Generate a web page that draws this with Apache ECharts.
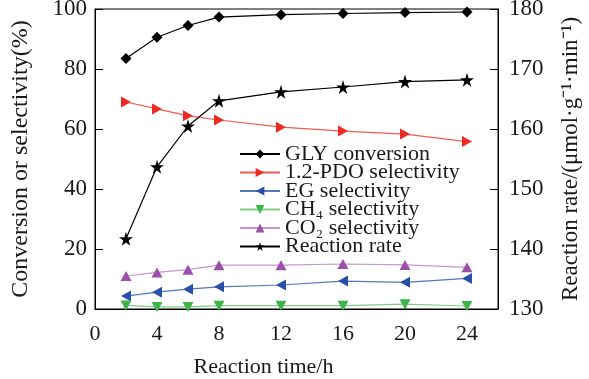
<!DOCTYPE html>
<html><head><meta charset="utf-8">
<script src="https://cdn.jsdelivr.net/npm/echarts@6/dist/echarts.min.js"></script>
<style>html,body{margin:0;padding:0;background:#fff}#c{width:589px;height:379px}</style>
</head><body><div id="c"></div>
<script>
const hours = [2, 4, 6, 8, 12, 16, 20, 24];
const glyConversion = [83.5, 90.6, 94.5, 97.3, 98.1, 98.5, 98.8, 99.0];
const pdoSelectivity = [69.0, 66.7, 64.4, 63.0, 60.6, 59.3, 58.3, 55.8];
const egSelectivity = [4.3, 5.6, 6.6, 7.4, 8.0, 9.3, 8.9, 10.2];
const ch4Selectivity = [1.2, 0.7, 0.7, 1.1, 1.1, 1.1, 1.6, 1.0];
const co2Selectivity = [11.0, 12.2, 13.1, 14.6, 14.6, 15.0, 14.7, 13.9];
const reactionRate = [141.7, 153.7, 160.5, 164.7, 166.2, 167.0, 167.9, 168.2];
const xTicks = [0, 4, 8, 12, 16, 20, 24];
const leftTicks = [0, 20, 40, 60, 80, 100];
const rightTicks = [130, 140, 150, 160, 170, 180];

const F = '"Liberation Serif", "Times New Roman", Times, serif';
const starPath = 'path://M50,0 L61,35 L98,35 L68,57 L79,91 L50,70 L21,91 L32,57 L2,35 L39,35 Z';
const pair = (vals) => hours.map((h, i) => [h, vals[i]]);

function mk(name, vals, markColor, lineColor, symbol, size, rot, yIdx) {
  return {
    name, type: 'line', yAxisIndex: yIdx, data: pair(vals),
    symbol, symbolSize: size, symbolRotate: rot,
    itemStyle: { color: markColor },
    lineStyle: { color: lineColor, width: 1.2 },
    z: name === 'Reaction rate' ? 5 : 3
  };
}

const chart = echarts.init(document.getElementById('c'), null, { renderer: 'canvas' });
chart.setOption({
  animation: false,
  backgroundColor: '#fff',
  grid: { left: 95, right: 91, top: 9, bottom: 70, show: true, borderColor: '#000', borderWidth: 1,
    containLabel: false, outerBoundsMode: 'none' },
  legend: {
    orient: 'vertical', left: 234, top: 138, itemWidth: 40, itemHeight: 11, itemGap: -3.5,
    textStyle: { fontFamily: F, fontSize: 22, color: '#1a1a1a', lineHeight: 18 },
    data: ['GLY conversion', '1.2-PDO selectivity', 'EG selectivity', 'CH₄ selectivity', 'CO₂ selectivity', 'Reaction rate']
  },
  xAxis: {
    type: 'value', min: 0, max: 26, interval: 4,
    name: 'Reaction time/h', nameLocation: 'middle', nameGap: 47,
    nameTextStyle: { fontFamily: F, fontSize: 22, color: '#1a1a1a', padding: [0, 66, 0, 0] },
    axisLine: { lineStyle: { color: '#000' } },
    axisTick: { inside: true, length: 5, lineStyle: { color: '#000' } },
    axisLabel: { fontFamily: F, fontSize: 22, color: '#1a1a1a', margin: 14, showMaxLabel: false,
      formatter: v => xTicks.includes(v) ? String(v) : '' },
    splitLine: { show: false }
  },
  yAxis: [
    {
      type: 'value', min: 0, max: 100, interval: 20, position: 'left',
      name: 'Conversion or selectivity(%)', nameLocation: 'middle', nameGap: 62, nameRotate: 90,
      nameTextStyle: { fontFamily: F, fontSize: 24, color: '#1a1a1a' },
      axisLine: { show: true, lineStyle: { color: '#000' } },
      axisTick: { inside: true, length: 8, lineStyle: { color: '#000' } },
      axisLabel: { fontFamily: F, fontSize: 23, color: '#1a1a1a', margin: 8,
        formatter: v => leftTicks.includes(v) ? String(v) : '' },
      splitLine: { show: false }
    },
    {
      type: 'value', min: 130, max: 180, interval: 10, position: 'right',
      name: 'Reaction rate/(μmol·g⁻¹·min⁻¹)', nameLocation: 'middle', nameGap: 61, nameRotate: 90,
      nameTextStyle: { fontFamily: F, fontSize: 23, color: '#1a1a1a' },
      axisLine: { show: true, lineStyle: { color: '#000' } },
      axisTick: { inside: true, length: 8, lineStyle: { color: '#000' } },
      axisLabel: { fontFamily: F, fontSize: 23, color: '#1a1a1a', margin: 11,
        formatter: v => rightTicks.includes(v) ? String(v) : '' },
      splitLine: { show: false }
    }
  ],
  series: [
    mk('GLY conversion', glyConversion, '#000', '#000', 'diamond', [11, 11], 0, 0),
    mk('1.2-PDO selectivity', pdoSelectivity, '#ee2a24', '#f25a4f', 'triangle', [11, 10], -90, 0),
    mk('EG selectivity', egSelectivity, '#2850a8', '#5477c0', 'triangle', [11, 10], 90, 0),
    mk('CH₄ selectivity', ch4Selectivity, '#3cb44a', '#82cf85', 'triangle', [11, 10], 180, 0),
    mk('CO₂ selectivity', co2Selectivity, '#9b4fa8', '#c894d0', 'triangle', [11, 10], 0, 0),
    mk('Reaction rate', reactionRate, '#000', '#000', starPath, 14, 0, 1)
  ]
});
</script></body></html>
